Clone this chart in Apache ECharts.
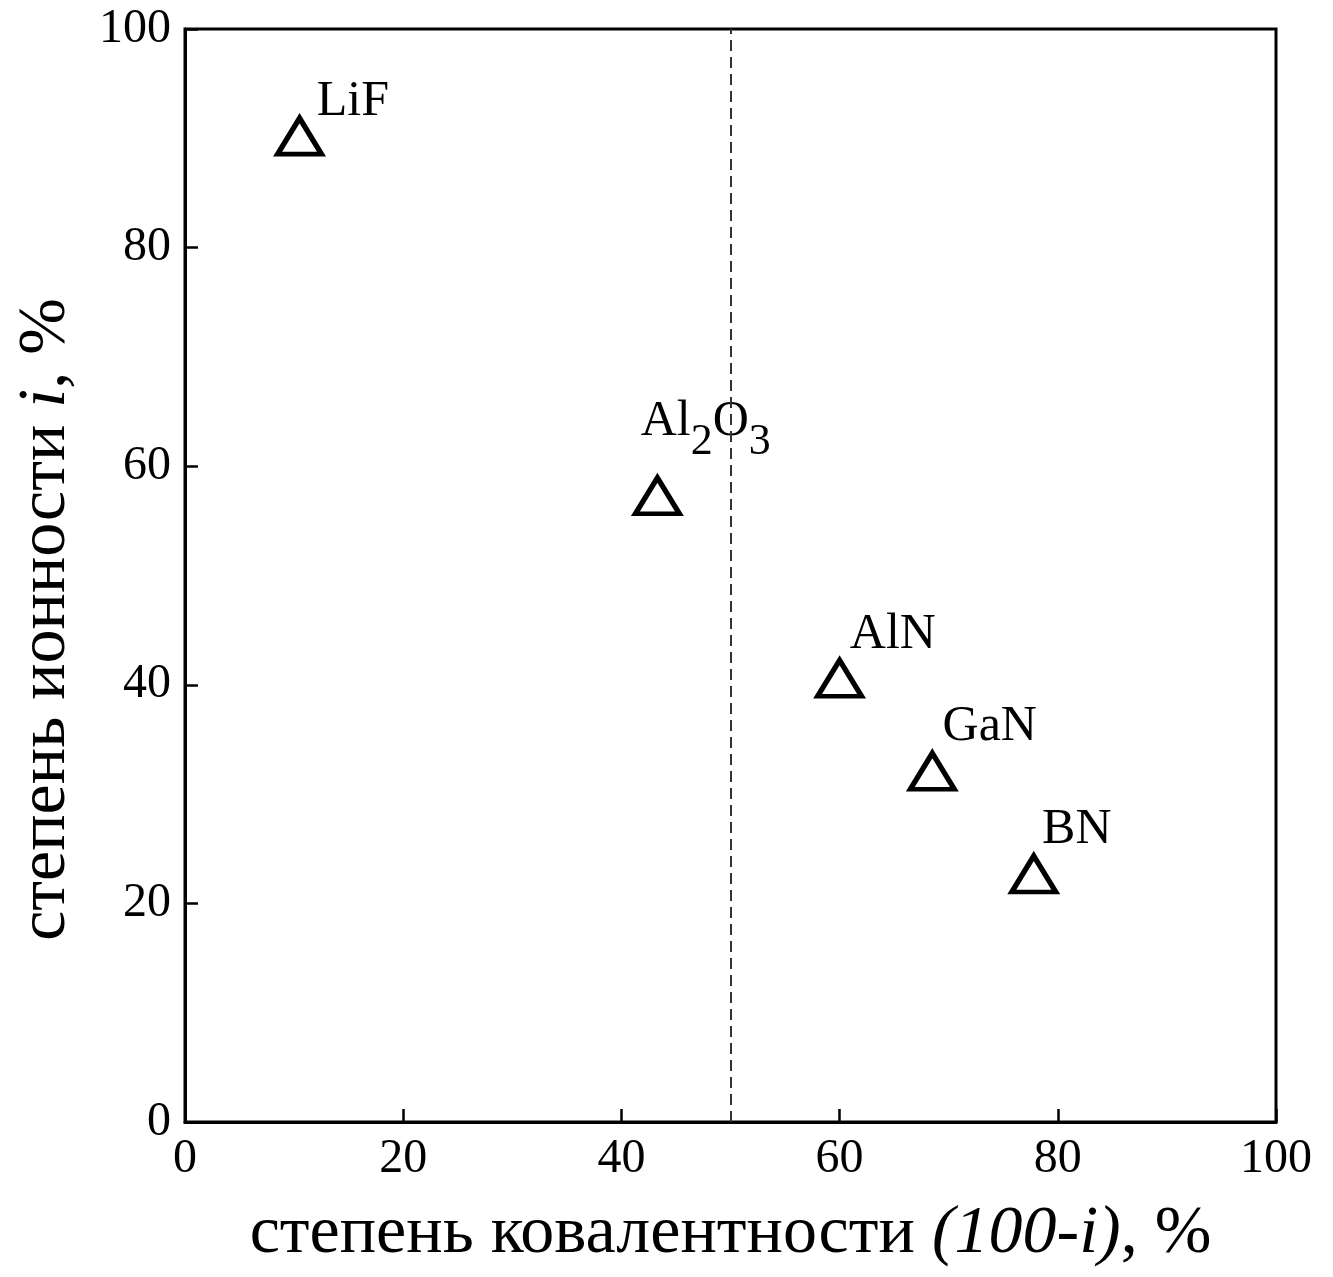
<!DOCTYPE html>
<html>
<head>
<meta charset="utf-8">
<script src="https://cdn.jsdelivr.net/npm/echarts@6/dist/echarts.min.js"></script>
<style>
  html, body { margin: 0; padding: 0; background: #fff; }
  #chart { width: 1333px; height: 1277px; }
</style>
</head>
<body>
<div id="chart"></div>
<script>
// данные
const compounds = ['LiF', 'Al2O3', 'AlN', 'GaN', 'BN'];
const covalency = [10.5, 43.3, 60, 68.5, 77.8];   // (100-i), %
const ionicity = [90.2, 57.3, 40.6, 32.1, 22.7];   // i, %
const xTicks = [0, 20, 40, 60, 80, 100];
const yTicks = [0, 20, 40, 60, 80, 100];
const boundary = 50;

// смещения подписей относительно маркера
const labelOffsets = [[42, 11], [8, -11], [35, 2], [35, 1], [33, 1]];

const font = '"Liberation Serif", "Times New Roman", serif';

const chart = echarts.init(document.getElementById('chart'));

const points = compounds.map((name, i) => ({
    name: name,
    value: [covalency[i], ionicity[i]],
    label: {
        position: labelOffsets[i],
        formatter: name === 'Al2O3' ? '{n|Al}{s|2}{n|O}{s|3}' : '{n|' + name + '}'
    }
}));

const option = {
    backgroundColor: '#fff',
    grid: {
        left: 185,
        right: 57,
        top: 29,
        bottom: 155,
        show: true,
        borderColor: '#000',
        borderWidth: 3,
        backgroundColor: 'transparent'
    },
    xAxis: {
        type: 'value',
        min: xTicks[0],
        max: xTicks[xTicks.length - 1],
        interval: 20,
        name: '{n|степень ковалентности }{it|(100-i)}{n|, %}',
        nameLocation: 'middle',
        nameGap: 78,
        nameTextStyle: {
            rich: {
                n: { fontFamily: font, fontSize: 68, color: '#000' },
                it: { fontFamily: font, fontSize: 68, fontStyle: 'italic', color: '#000' }
            }
        },
        axisLine: { onZero: false, lineStyle: { color: '#000', width: 3 } },
        axisTick: { inside: true, length: 13, lineStyle: { color: '#000', width: 2.5 } },
        axisLabel: { fontFamily: font, fontSize: 48, color: '#000', margin: 13 },
        splitLine: { show: false }
    },
    yAxis: {
        type: 'value',
        min: yTicks[0],
        max: yTicks[yTicks.length - 1],
        interval: 20,
        name: '{n|степень ионности }{it|i}{n|, %}',
        nameLocation: 'middle',
        nameGap: 105,
        nameRotate: 90,
        nameTextStyle: {
            padding: [0, 88, 0, 0],
            rich: {
                n: { fontFamily: font, fontSize: 68, color: '#000' },
                it: { fontFamily: font, fontSize: 68, fontStyle: 'italic', color: '#000' }
            }
        },
        axisLine: { onZero: false, lineStyle: { color: '#000', width: 3 } },
        axisTick: { inside: true, length: 13, lineStyle: { color: '#000', width: 2.5 } },
        axisLabel: { fontFamily: font, fontSize: 48, color: '#000', margin: 14 },
        splitLine: { show: false }
    },
    series: [
        {
            type: 'scatter',
            data: points,
            symbol: 'triangle',
            symbolSize: [44, 36],
            itemStyle: { color: 'transparent', borderColor: '#000', borderWidth: 5, opacity: 1 },
            label: {
                show: true,
                align: 'left',
                verticalAlign: 'bottom',
                rich: {
                    n: { fontFamily: font, fontSize: 50, color: '#000', lineHeight: 50, verticalAlign: 'top' },
                    s: { fontFamily: font, fontSize: 44, color: '#000', lineHeight: 68, verticalAlign: 'bottom' }
                }
            },
            markLine: {
                silent: true,
                symbol: 'none',
                label: { show: false },
                lineStyle: { color: '#333', width: 2, type: [11, 6] },
                data: [{ xAxis: boundary }]
            },
            z: 3
        }
    ]
};

chart.setOption(option);
</script>
</body>
</html>
